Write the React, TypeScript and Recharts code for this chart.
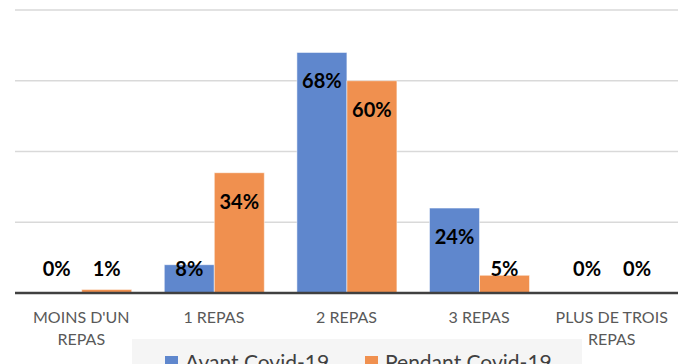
import React from 'react';
import { BarChart, Bar, XAxis, YAxis, CartesianGrid, LabelList, ReferenceLine } from 'recharts';

const categories = ["MOINS D'UN|REPAS", '1 REPAS', '2 REPAS', '3 REPAS', 'PLUS DE TROIS|REPAS'];
const avant = [0, 8, 68, 24, 0];
const pendant = [1, 34, 60, 5, 0];
const yTicks = [0, 20, 40, 60, 80];

const BLUE = '#5f87cd';
const ORANGE = '#f0904f';
const FONT = 'Lato, "Open Sans", sans-serif';

const data = categories.map((c, i) => ({ cat: c, avant: avant[i], pendant: pendant[i] }));

// value label sits near the top of the bar, but never lower than just above the axis
const ValueLabel = (props: any) => {
  const { x, y, width, height, value } = props;
  const cy = Math.min(y + 28, y + height - 25);
  return (
    <text
      x={x + width / 2}
      y={cy}
      textAnchor="middle"
      dominantBaseline="central"
      fontFamily={FONT}
      fontWeight={700}
      fontSize={20}
      fill="#000"
    >
      {value}%
    </text>
  );
};

const CatTick = (props: any) => {
  const { x, y, payload } = props;
  const lines = String(payload.value).split('|');
  return (
    <text x={x} y={y} textAnchor="middle" fontFamily={FONT} fontSize={16} fill="#595959">
      {lines.map((l, i) => (
        <tspan key={i} x={x} dy={i === 0 ? 22 : 22}>
          {l}
        </tspan>
      ))}
    </text>
  );
};

const legendItems = [
  { name: 'Avant Covid-19', color: BLUE, left: 33 },
  { name: 'Pendant Covid-19', color: ORANGE, left: 233 },
];

const LegendBox = () => (
  <div
    style={{
      position: 'absolute',
      left: 132,
      top: 339,
      width: 450,
      height: 25,
      overflow: 'hidden',
      background: '#f5f5f5',
      fontFamily: FONT,
      fontSize: 21,
      color: '#404040',
    }}
  >
    {legendItems.map((s) => (
      <div key={s.name} style={{ position: 'absolute', left: s.left, top: 10, display: 'flex', alignItems: 'flex-start', whiteSpace: 'nowrap' }}>
        <span style={{ width: 13, height: 13, background: s.color, marginTop: 7, marginRight: 7 }} />
        <span style={{ lineHeight: '26px' }}>{s.name}</span>
      </div>
    ))}
  </div>
);

export default function App() {
  return (
    <div style={{ position: 'absolute', left: 0, top: 0, width: 686, height: 364, background: '#fff', overflow: 'hidden' }}>
      <BarChart
        width={686}
        height={364}
        data={data}
        margin={{ top: 10, right: 8, left: 15, bottom: 0 }}
        barCategoryGap="12.6%"
        barGap={0}
      >
        <CartesianGrid vertical={false} stroke="#d9d9d9" strokeWidth={1.5} />
        <YAxis hide domain={[0, 80]} ticks={yTicks} />
        <XAxis dataKey="cat" axisLine={false} tickLine={false} tick={<CatTick />} interval={0} height={71} />
        <ReferenceLine y={0} stroke="#404040" strokeWidth={2.5} />
        <Bar dataKey="avant" name="Avant Covid-19" fill={BLUE} stroke="#ffffff" strokeOpacity={0.5} minPointSize={0.01} isAnimationActive={false}>
          <LabelList dataKey="avant" content={<ValueLabel />} />
        </Bar>
        <Bar dataKey="pendant" name="Pendant Covid-19" fill={ORANGE} stroke="#ffffff" strokeOpacity={0.5} minPointSize={0.01} isAnimationActive={false}>
          <LabelList dataKey="pendant" content={<ValueLabel />} />
        </Bar>
      </BarChart>
      <LegendBox />
    </div>
  );
}
